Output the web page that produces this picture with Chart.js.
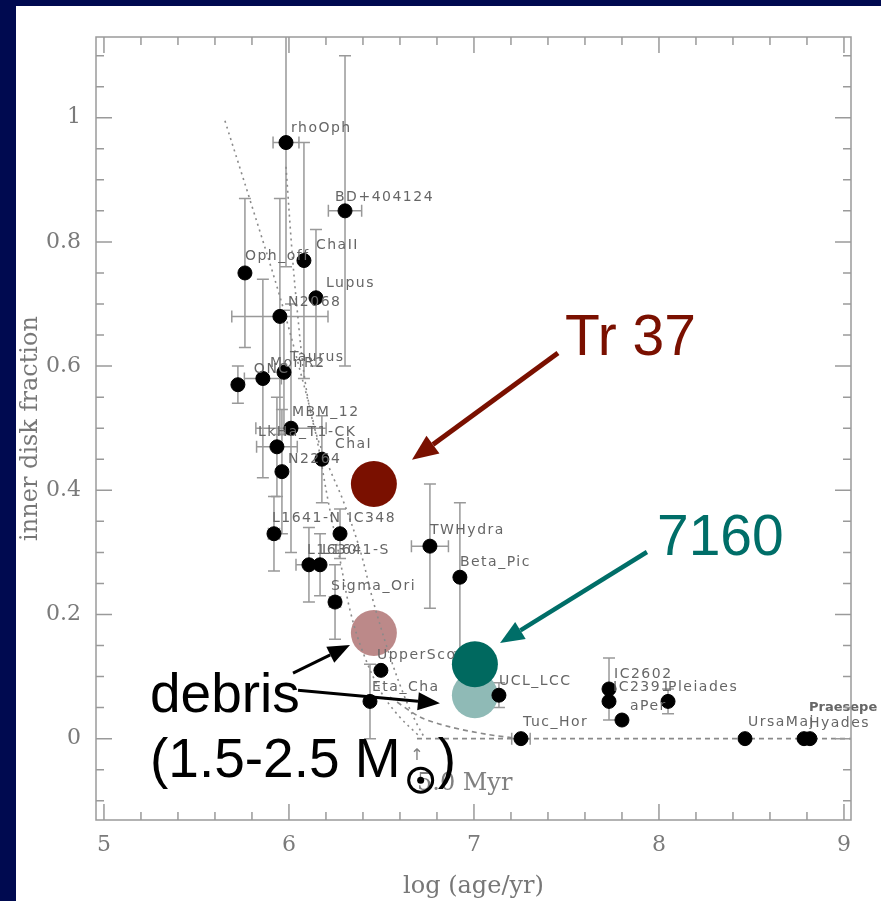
<!DOCTYPE html>
<html>
<head>
<meta charset="utf-8">
<script src="https://cdn.jsdelivr.net/npm/chart.js@4.4.1/dist/chart.umd.min.js"></script>
<style>
  html, body { margin: 0; padding: 0; background: #000a50; width: 881px; height: 901px; overflow: hidden; }
  #wrap { position: absolute; left: 16px; top: 6px; width: 865px; height: 895px; background: #fff; }
  canvas { display: block; }
</style>
</head>
<body>
<div id="wrap"><canvas id="diskChart" width="865" height="895"></canvas></div>
<script>
// cluster measurements
const clusterNames = ['rhoOph', 'BD+404124', 'ChaII', 'Lupus', 'Oph_off', 'N2068', 'MonR2', 'ONC', 'Taurus',
  'MBM_12', 'LkHa_T1-CK', 'ChaI', 'N2264', 'L1641-N', 'IC348', 'L1630', 'L1641-S', 'Sigma_Ori', 'UpperSco',
  'Eta_Cha', 'TWHydra', 'Beta_Pic', 'UCL_LCC', 'Tuc_Hor', 'IC2602', 'IC2391', 'aPer', 'Pleiades', 'UrsaMaj',
  'Praesepe', 'Hyades'];
const logAge = [5.984, 6.303, 6.081, 6.146, 5.762, 5.951, 5.724, 5.859, 5.973,
  6.011, 5.935, 6.178, 5.962, 5.919, 6.276, 6.108, 6.168, 6.249, 6.497,
  6.438, 6.762, 6.924, 7.135, 7.254, 7.73, 7.73, 7.80, 8.049, 8.465,
  8.784, 8.816];
const diskFraction = [0.96, 0.85, 0.77, 0.71, 0.75, 0.68, 0.57, 0.58, 0.59,
  0.50, 0.47, 0.45, 0.43, 0.33, 0.33, 0.28, 0.28, 0.22, 0.11,
  0.06, 0.31, 0.26, 0.07, 0.0, 0.08, 0.06, 0.03, 0.06, 0.0,
  0.0, 0.0];
const ageErr = [0.07, 0.09, 0, 0, 0, 0.26, 0, 0.1, 0,
  0.19, 0.11, 0, 0, 0.03, 0, 0.07, 0, 0.03, 0,
  0, 0.1, 0, 0, 0.05, 0, 0, 0, 0, 0,
  0, 0];
const fracErr = [0.2, 0.25, 0.19, 0.11, 0.12, 0.19, 0.03, 0.16, 0.1,
  0.2, 0.08, 0.07, 0.1, 0.06, 0.04, 0.06, 0.05, 0.06, 0,
  0.06, 0.1, 0.12, 0.02, 0, 0.05, 0, 0, 0.02, 0,
  0, 0];

// highlighted clusters
const tr37Age = [6.459], tr37Frac = [0.41];
const tr37DebrisAge = [6.459], tr37DebrisFrac = [0.17];
const n7160Age = [7.005], n7160Frac = [0.12];
const n7160DebrisAge = [7.005], n7160DebrisFrac = [0.07];

// model curves
const modelAAge = [5.654, 5.789, 5.951, 6.059, 6.141, 6.211, 6.276, 6.330, 6.395, 6.492, 6.589, 6.697];
const modelAFrac = [0.995, 0.868, 0.712, 0.594, 0.497, 0.384, 0.288, 0.207, 0.143, 0.078, 0.038, 0.006];
const modelBAge = [5.984, 6.016, 6.043, 6.086, 6.141, 6.222, 6.292, 6.384, 6.454, 6.530, 6.611, 6.681, 6.735];
const modelBFrac = [0.921, 0.787, 0.695, 0.578, 0.497, 0.433, 0.384, 0.304, 0.223, 0.147, 0.078, 0.030, 0.0];
const modelCAge = [6.546, 6.708, 6.870, 7.070, 7.249];
const modelCFrac = [0.067, 0.035, 0.019, 0.007, 0.0];
const zeroLineAge = [6.692, 9.038];
const zeroLineFrac = [0, 0];

const xTicks = [5, 6, 7, 8, 9];
const xTickLabels = ['5', '6', '7', '8', '9'];
const yTicks = [0, 0.2, 0.4, 0.6, 0.8, 1];
const yTickLabels = ['0', '0.2', '0.4', '0.6', '0.8', '1'];

const pts = (xs, ys) => xs.map((x, i) => ({ x: x, y: ys[i] }));

const labelShift = {
  'rhoOph': [5, -11], 'BD+404124': [-10, -10], 'ChaII': [12, -12], 'Lupus': [10, -11], 'Oph_off': [0, -13],
  'N2068': [8, -10], 'MonR2': [32, -18], 'ONC': [-9, -6], 'Taurus': [6, -11], 'MBM_12': [1, -12],
  'LkHa_T1-CK': [-19, -11], 'ChaI': [13, -11], 'N2264': [6, -9], 'L1641-N': [-2, -12], 'IC348': [8, -12],
  'L1630': [-2, -11], 'L1641-S': [2, -11], 'Sigma_Ori': [-4, -12], 'UpperSco': [-4, -11], 'Eta_Cha': [2, -10],
  'TWHydra': [0, -12], 'Beta_Pic': [0, -11], 'UCL_LCC': [0, -10], 'Tuc_Hor': [2, -13], 'IC2602': [5, -11],
  'IC2391': [4, -10], 'aPer': [8, -10], 'Pleiades': [0, -10], 'UrsaMaj': [3, -13], 'Praesepe': [5, -28],
  'Hyades': [-1, -12]
};

function arrow(ctx, x1, y1, x2, y2, color, width, headLen, headW) {
  const a = Math.atan2(y2 - y1, x2 - x1);
  const bx = x2 - headLen * Math.cos(a), by = y2 - headLen * Math.sin(a);
  ctx.strokeStyle = color;
  ctx.lineWidth = width;
  ctx.beginPath();
  ctx.moveTo(x1, y1);
  ctx.lineTo(bx, by);
  ctx.stroke();
  ctx.fillStyle = color;
  ctx.beginPath();
  ctx.moveTo(x2, y2);
  ctx.lineTo(bx + headW / 2 * Math.sin(a), by - headW / 2 * Math.cos(a));
  ctx.lineTo(bx - headW / 2 * Math.sin(a), by + headW / 2 * Math.cos(a));
  ctx.closePath();
  ctx.fill();
}

const errorBars = {
  id: 'errorBars',
  beforeDatasetsDraw(chart) {
    const { ctx, chartArea, scales: { x, y } } = chart;
    ctx.save();
    ctx.beginPath();
    ctx.rect(chartArea.left, chartArea.top, chartArea.width, chartArea.height);
    ctx.clip();
    ctx.strokeStyle = '#999';
    ctx.lineWidth = 1.5;
    logAge.forEach((a, i) => {
      const px = x.getPixelForValue(a), py = y.getPixelForValue(diskFraction[i]);
      ctx.beginPath();
      if (fracErr[i] > 0) {
        const y1 = y.getPixelForValue(diskFraction[i] + fracErr[i]);
        const y2 = y.getPixelForValue(diskFraction[i] - fracErr[i]);
        ctx.moveTo(px, y1); ctx.lineTo(px, y2);
        ctx.moveTo(px - 6, y1); ctx.lineTo(px + 6, y1);
        ctx.moveTo(px - 6, y2); ctx.lineTo(px + 6, y2);
      }
      if (ageErr[i] > 0) {
        const x1 = x.getPixelForValue(a - ageErr[i]);
        const x2 = x.getPixelForValue(a + ageErr[i]);
        ctx.moveTo(x1, py); ctx.lineTo(x2, py);
        ctx.moveTo(x1, py - 6); ctx.lineTo(x1, py + 6);
        ctx.moveTo(x2, py - 6); ctx.lineTo(x2, py + 6);
      }
      ctx.stroke();
    });
    ctx.restore();
  },
  afterDatasetsDraw(chart) {
    const { ctx } = chart;
    const pts0 = chart.getDatasetMeta(0).data;
    ctx.save();
    ctx.fillStyle = '#666';
    ctx.textBaseline = 'alphabetic';
    clusterNames.forEach((n, i) => {
      const s = labelShift[n] || [3, -11];
      if (n === 'Praesepe') {
        ctx.font = 'bold 13px "DejaVu Sans"';
        ctx.letterSpacing = '0px';
      } else {
        ctx.font = '14px "DejaVu Sans"';
        ctx.letterSpacing = '1.5px';
      }
      ctx.fillText(n, pts0[i].x + s[0], pts0[i].y + s[1]);
    });
    ctx.restore();
  },
  afterDraw(chart) {
    const { ctx, chartArea: ca, scales: { x, y } } = chart;
    ctx.save();
    // frame and inward ticks
    ctx.strokeStyle = '#9a9a9a';
    ctx.lineWidth = 1.5;
    ctx.strokeRect(ca.left, ca.top, ca.right - ca.left, ca.bottom - ca.top);
    ctx.beginPath();
    for (let k = 0; k <= 20; k++) {
      const v = 5 + k * 0.2;
      const len = k % 5 === 0 ? 16 : 8;
      const px = x.getPixelForValue(v);
      ctx.moveTo(px, ca.bottom); ctx.lineTo(px, ca.bottom - len);
      ctx.moveTo(px, ca.top); ctx.lineTo(px, ca.top + len);
    }
    for (let k = -2; k <= 22; k++) {
      const v = k * 0.05;
      const len = (k % 4 === 0 && k >= 0 && k <= 20) ? 16 : 8;
      const py = y.getPixelForValue(v);
      ctx.moveTo(ca.left, py); ctx.lineTo(ca.left + len, py);
      ctx.moveTo(ca.right, py); ctx.lineTo(ca.right - len, py);
    }
    ctx.stroke();

    const X = v => x.getPixelForValue(v), Y = v => y.getPixelForValue(v);

    // 5 Myr marker
    ctx.fillStyle = '#808080';
    ctx.font = '16px "DejaVu Sans"';
    ctx.textAlign = 'center';
    ctx.fillText('\u2191', X(6.692), Y(-0.035));
    ctx.textAlign = 'left';
    ctx.font = '24px "DejaVu Serif"';
    ctx.fillText('5.0 Myr', X(6.692), Y(-0.083));

    // Tr 37
    ctx.fillStyle = '#7a1000';
    ctx.font = '57px "Liberation Sans"';
    ctx.fillText('Tr 37', X(7.492), Y(0.618));
    arrow(ctx, X(7.454), Y(0.621), X(6.665), Y(0.449), '#7a1000', 5, 26, 22);

    // 7160
    ctx.fillStyle = '#006e68';
    ctx.fillText('7160', X(7.989), Y(0.2957));
    arrow(ctx, X(7.935), Y(0.3006), X(7.141), Y(0.1539), '#006e68', 4.5, 24, 20);

    // debris
    ctx.fillStyle = '#000';
    ctx.font = '55px "Liberation Sans"';
    const tx = X(5.249);
    ctx.fillText('debris', tx, Y(0.0427));
    const line2 = '(1.5-2.5 M';
    const by = Y(-0.062);
    ctx.fillText(line2, tx, by);
    const w = ctx.measureText(line2).width;
    ctx.strokeStyle = '#000';
    ctx.lineWidth = 3;
    ctx.beginPath();
    ctx.arc(tx + w + 20, by + 3, 12, 0, Math.PI * 2);
    ctx.stroke();
    ctx.beginPath();
    ctx.arc(tx + w + 20, by + 3, 3.5, 0, Math.PI * 2);
    ctx.fill();
    ctx.fillText(')', tx + w + 37, by);
    arrow(ctx, X(6.022), Y(0.1056), X(6.330), Y(0.1507), '#000', 3, 22, 18);
    arrow(ctx, X(6.049), Y(0.078), X(6.816), Y(0.057), '#000', 3, 22, 18);
    ctx.restore();
  }
};

const dotted = { showLine: true, pointRadius: 0, borderColor: '#8a8a8a', borderWidth: 1.6, borderDash: [2, 4], tension: 0.35, fill: false, order: 3 };

new Chart(document.getElementById('diskChart'), {
  type: 'scatter',
  data: {
    datasets: [
      { data: pts(logAge, diskFraction), pointRadius: 7, backgroundColor: '#000', borderColor: '#000', order: 1 },
      Object.assign({ data: pts(modelAAge, modelAFrac) }, dotted),
      Object.assign({ data: pts(modelBAge, modelBFrac) }, dotted),
      Object.assign({ data: pts(modelCAge, modelCFrac) }, dotted, { borderDash: [5, 4], tension: 0.3 }),
      Object.assign({ data: pts(zeroLineAge, zeroLineFrac) }, dotted, { borderDash: [5, 4], tension: 0 }),
      { data: pts(tr37DebrisAge, tr37DebrisFrac), pointRadius: 23, backgroundColor: 'rgba(176,116,116,0.85)', borderWidth: 0, order: 4 },
      { data: pts(tr37Age, tr37Frac), pointRadius: 23, backgroundColor: '#7a1000', borderWidth: 0, order: 5 },
      { data: pts(n7160Age, n7160Frac), pointRadius: 23, backgroundColor: '#00695f', borderWidth: 0, order: 6 },
      { data: pts(n7160DebrisAge, n7160DebrisFrac), pointRadius: 23, backgroundColor: '#8fbab6', borderWidth: 0, order: 7 }
    ]
  },
  options: {
    responsive: false,
    animation: false,
    events: [],
    layout: { padding: { top: 31, right: 30, left: 0, bottom: 0 } },
    plugins: { legend: { display: false }, tooltip: { enabled: false } },
    scales: {
      x: {
        type: 'linear', min: 4.957, max: 9.038,
        afterBuildTicks: s => { s.ticks = xTicks.map(v => ({ value: v })); },
        afterFit: s => { s.height = 81; },
        grid: { display: false, drawTicks: false },
        border: { display: false },
        ticks: { padding: 12, color: '#7a7a7a', font: { family: '"DejaVu Serif"', size: 22 }, callback: (v, i) => xTickLabels[i] },
        title: { display: true, text: 'log (age/yr)', color: '#777', font: { family: '"DejaVu Serif"', size: 24 }, padding: { top: 2, bottom: 0 } }
      },
      y: {
        type: 'linear', min: -0.131, max: 1.13,
        afterBuildTicks: s => { s.ticks = yTicks.map(v => ({ value: v })); },
        afterFit: s => { s.width = 80; },
        grid: { display: false, drawTicks: false },
        border: { display: false },
        ticks: { padding: 15, color: '#7a7a7a', font: { family: '"DejaVu Serif"', size: 22 }, callback: (v, i) => yTickLabels[i] },
        title: { display: true, text: 'inner disk fraction', color: '#777', font: { family: '"DejaVu Serif"', size: 24 }, padding: { top: 0, bottom: 0 } }
      }
    }
  },
  plugins: [errorBars]
});
</script>
</body>
</html>
